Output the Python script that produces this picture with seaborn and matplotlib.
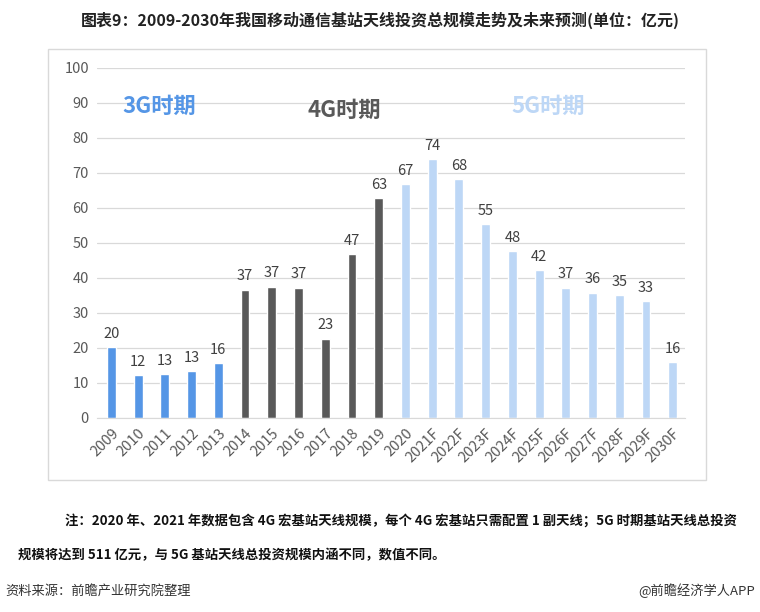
import matplotlib
matplotlib.use('Agg')
import matplotlib.pyplot as plt
import seaborn as sns
import pandas as pd
from matplotlib.patches import Rectangle

years = ['2009', '2010', '2011', '2012', '2013', '2014', '2015', '2016', '2017', '2018', '2019',
         '2020', '2021F', '2022F', '2023F', '2024F', '2025F', '2026F', '2027F', '2028F', '2029F', '2030F']
values = [20.3, 12.3, 12.6, 13.4, 15.7, 36.7, 37.5, 37.2, 22.7, 46.9, 62.8,
          66.8, 74.0, 68.2, 55.3, 47.7, 42.3, 37.2, 35.8, 35.1, 33.3, 16.0]
labels = [20, 12, 13, 13, 16, 37, 37, 37, 23, 47, 63, 67, 74, 68, 55, 48, 42, 37, 36, 35, 33, 16]
periods = ['3G'] * 5 + ['4G'] * 6 + ['5G'] * 11
period_colors = {'3G': '#5596E6', '4G': '#595959', '5G': '#BDD7F6'}

sns.set_style('white')
plt.rcParams['font.family'] = ['Noto Sans CJK SC', 'DejaVu Sans']

df = pd.DataFrame({'year': years, 'value': values, 'period': periods})

fig = plt.figure(figsize=(7.6, 6.12), dpi=100)
ax = fig.add_axes([0.128, 0.317, 0.773, 0.572])

sns.barplot(data=df, x='year', y='value', hue='period', palette=period_colors,
            width=0.33, dodge=False, legend=False, saturation=1, ax=ax)

# value labels above the bars
for bar in ax.patches:
    h = bar.get_height()
    if h <= 0:
        continue
    i = int(round(bar.get_x() + bar.get_width() / 2))
    ax.text(i, h + 1.8, str(labels[i]), ha='center', va='bottom', fontsize=10.5, color='#404040')

ax.set_ylim(0, 100)
ax.set_xlim(-0.53, 21.45)
ax.set_yticks(range(0, 101, 10))
ax.yaxis.grid(True, color='#D9D9D9', lw=0.9)
ax.set_axisbelow(True)
ax.set_xlabel('')
ax.set_ylabel('')
for s in ['top', 'right', 'left']:
    ax.spines[s].set_visible(False)
ax.spines['bottom'].set_color('#D9D9D9')
ax.tick_params(axis='both', length=0, labelsize=10.5, colors='#595959', pad=6)
plt.setp(ax.get_xticklabels(), rotation=45, ha='right', rotation_mode='anchor')

ax.text(1.79, 89, '3G时期', color='#5596E6', fontsize=16, fontweight='bold', ha='center', va='center')
ax.text(8.7, 88, '4G时期', color='#595959', fontsize=16, fontweight='bold', ha='center', va='center')
ax.text(16.33, 89, '5G时期', color='#BDD7F6', fontsize=16, fontweight='bold', ha='center', va='center')

# chart frame
fig.patches.append(Rectangle((48 / 760, 1 - 480 / 612), (706 - 48) / 760, (480 - 49) / 612,
                             transform=fig.transFigure, fill=False, edgecolor='#D9D9D9', lw=1))

fig.text(0.5, 1 - 20 / 612, '图表9：2009-2030年我国移动通信基站天线投资总规模走势及未来预测(单位：亿元)',
         ha='center', va='center', fontsize=11.5, fontweight='bold', color='#222222')

fig.text(65 / 760, 1 - 521 / 612,
         '注：2020 年、2021 年数据包含 4G 宏基站天线规模，每个 4G 宏基站只需配置 1 副天线；5G 时期基站天线总投资',
         ha='left', va='center', fontsize=9.6, fontweight='bold', color='#111111')
fig.text(18 / 760, 1 - 555 / 612,
         '规模将达到 511 亿元，与 5G 基站天线总投资规模内涵不同，数值不同。',
         ha='left', va='center', fontsize=9.6, fontweight='bold', color='#111111')

fig.text(5 / 760, 1 - 591 / 612, '资料来源：前瞻产业研究院整理', ha='left', va='center',
         fontsize=9.5, color='#333333')
fig.text(755 / 760, 1 - 591 / 612, '@前瞻经济学人APP', ha='right', va='center',
         fontsize=9.5, color='#333333')

fig.savefig('out.png', dpi=100, facecolor='white')
plt.close(fig)
